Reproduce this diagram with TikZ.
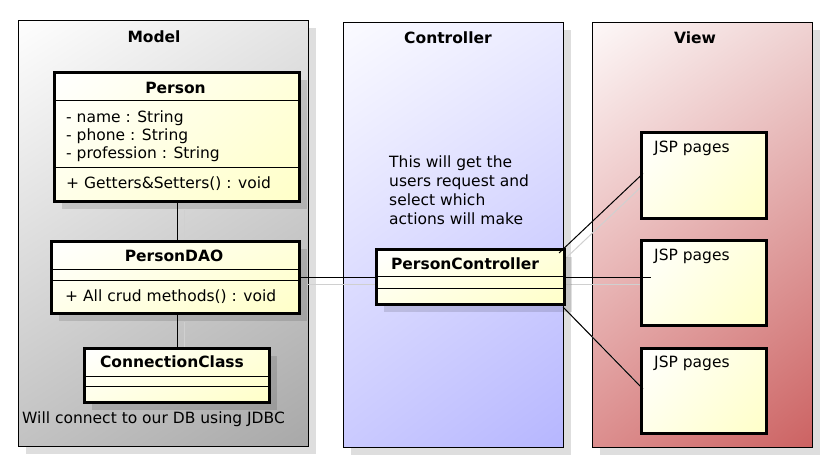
\documentclass[tikz,border=0pt]{standalone}
\usepackage{fontspec}
\setmainfont{DejaVu Sans}
\usetikzlibrary{shadows,shadings,calc}
\definecolor{classy}{HTML}{FFFFC8}
\definecolor{modelUL}{HTML}{FEFEFE}
\definecolor{modelUR}{HTML}{E4E4E4}
\definecolor{modelLL}{HTML}{C2C2C2}
\definecolor{modelLR}{HTML}{A8A8A8}
\definecolor{ctrlUL}{HTML}{FBFBFF}
\definecolor{ctrlUR}{HTML}{EAEAFF}
\definecolor{ctrlLL}{HTML}{CACAFF}
\definecolor{ctrlLR}{HTML}{B6B6FF}
\definecolor{viewUL}{HTML}{FDF8F8}
\definecolor{viewUR}{HTML}{EFD2D2}
\definecolor{viewLL}{HTML}{DC8E8E}
\definecolor{viewLR}{HTML}{CC6262}
\definecolor{shadowc}{HTML}{DEDEDE}
\definecolor{lineshadowc}{HTML}{D0D0D0}
\pgfdeclarelayer{bg}
\pgfdeclarelayer{shad}
\pgfsetlayers{bg,shad,main}
\begin{document}
\begin{tikzpicture}[x=1pt,y=-1pt,
  fs/.style={font=\fontsize{15.5}{19}\selectfont},
  fsb/.style={font=\fontsize{15.5}{19}\selectfont\bfseries},
  frame/.style={draw=black, line width=1pt, anchor=north west, inner sep=0pt,
    drop shadow={shadow xshift=7pt, shadow yshift=-7pt, fill=shadowc, opacity=1}},
  boxbase/.style={draw=black, line width=3pt, anchor=north west, inner sep=0pt,
    upper left=white, lower left=white!60!classy, upper right=white!35!classy, lower right=classy},
  umlclass/.style={boxbase,
    drop shadow={shadow xshift=7pt, shadow yshift=-7pt, fill=black, opacity=0.12}},
  sep/.style={draw=black, line width=1pt},
  conn/.style={draw=black, line width=1pt},
  connshadow/.style={draw=lineshadowc, line width=1pt},
  txt/.style={fs, anchor=base west, inner sep=0pt},
  ttl/.style={fsb, anchor=base, inner sep=0pt}
]
\useasboundingbox (0,0) rectangle (840,474);

% frames
\begin{pgfonlayer}{bg}
\node[frame, minimum width=290, minimum height=426,
  upper left=modelUL, upper right=modelUR, lower left=modelLL, lower right=modelLR] (model) at (18,20) {};
\node[frame, minimum width=220, minimum height=425,
  upper left=ctrlUL, upper right=ctrlUR, lower left=ctrlLL, lower right=ctrlLR] (controller) at (343,22) {};
\node[frame, minimum width=220, minimum height=425,
  upper left=viewUL, upper right=viewUR, lower left=viewLL, lower right=viewLR] (view) at (592,22) {};
\end{pgfonlayer}
\node[ttl] at (154,42) {Model};
\node[ttl] at (448,43) {Controller};
\node[ttl] at (695,43) {View};

% Person
\node[umlclass, minimum width=245, minimum height=129] (person) at (53,71) {};
\draw[sep] (53,100) -- (298,100);
\draw[sep] (53,167.5) -- (298,167.5);
\node[ttl] at (175.5,93) {Person};
\node[txt] at (66,122) {- name : String};
\node[txt] at (66,140) {- phone : String};
\node[txt] at (66,158.5) {- profession : String};
\node[txt] at (66,188) {+ Getters\&Setters() : void};

% PersonDAO
\node[umlclass, minimum width=248, minimum height=72] (dao) at (50,240) {};
\draw[sep] (50,269) -- (298,269);
\draw[sep] (50,280) -- (298,280);
\node[ttl] at (174,261) {PersonDAO};
\node[txt] at (65,301) {+ All crud methods() : void};

% ConnectionClass
\node[umlclass, minimum width=185, minimum height=54] (conncls) at (83,347) {};
\draw[sep] (83,376) -- (268,376);
\draw[sep] (83,386) -- (268,386);
\node[ttl] at (172,367) {ConnectionClass};
\node[txt] at (22,423) {Will connect to our DB using JDBC};

% PersonController
\node[umlclass, minimum width=188, minimum height=55] (pc) at (375,248) {};
\draw[sep] (375,276) -- (563,276);
\draw[sep] (375,288) -- (563,288);
\node[ttl] at (465,269) {PersonController};
\node[fs, anchor=north west, align=left, inner sep=0pt] at (389,155.5)
  {This will get the\\users request and\\select which\\actions will make};

% JSP pages
\node[boxbase, minimum width=125, minimum height=86] (jsp1) at (640,131) {};
\node[boxbase, minimum width=125, minimum height=85] (jsp2) at (640,239) {};
\node[boxbase, minimum width=125, minimum height=85] (jsp3) at (640,347) {};
\node[txt] at (654,152) {JSP pages};
\node[txt] at (654,260) {JSP pages};
\node[txt] at (654,367) {JSP pages};

% connector end points
\coordinate (s1) at ([shift={(-7,5)}]pc.north east);
\coordinate (e1) at ([shift={(3,-2)}]jsp1.west);
\coordinate (e2) at ([shift={(11,0)}]jsp2.west);
\coordinate (s3) at ([shift={(-3,1)}]pc.south east);
\coordinate (e3) at ([shift={(3,-2)}]jsp3.west);

% connector shadows
\begin{pgfonlayer}{shad}
\draw[connshadow] ([shift={(7,7)}]person.south) -- ([shift={(7,7)}]person.south |- dao.north);
\draw[connshadow] ([shift={(7,7)}]person.south |- dao.south) -- ([shift={(7,7)}]person.south |- conncls.north);
\draw[connshadow] ([shift={(7,7)}]dao.east) -- ([shift={(7,7)}]dao.east -| pc.west);
\draw[connshadow] ([shift={(7,5)}]s1) -- ([shift={(7,5)}]e1);
\draw[connshadow] ([shift={(0,7)}]pc.east) -- ([shift={(6,7)}]pc.east -| e2);
\draw[connshadow] ([shift={(7,7)}]s3) -- ([shift={(7,7)}]e3);
\end{pgfonlayer}

% connectors
\draw[conn] (person.south) -- (person.south |- dao.north);
\draw[conn] (person.south |- dao.south) -- (person.south |- conncls.north);
\draw[conn] (dao.east) -- (dao.east -| pc.west);
\draw[conn] (s1) -- (e1);
\draw[conn] (pc.east) -- (pc.east -| e2);
\draw[conn] (s3) -- (e3);
\end{tikzpicture}
\end{document}
